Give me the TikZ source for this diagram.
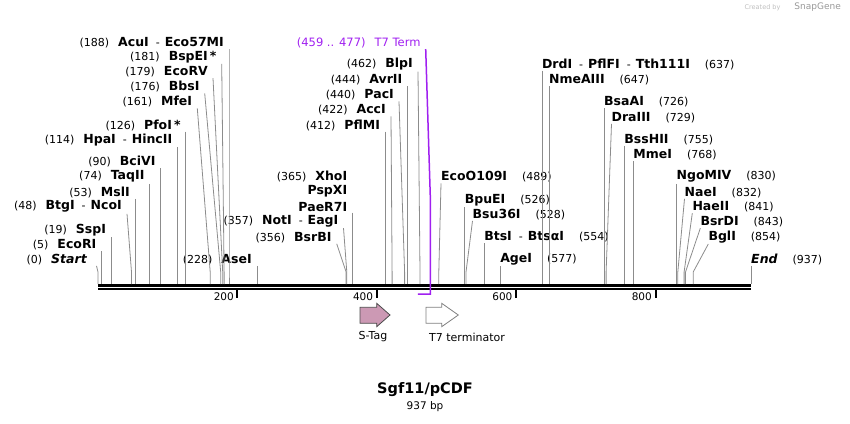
\documentclass[tikz,border=0pt]{standalone}
\usepackage{fontspec}
\setmainfont{DejaVu Sans}
\usepackage{tikz}
\definecolor{termpurple}{RGB}{160,32,240}
\definecolor{tagpink}{RGB}{204,153,180}
\newcommand{\enz}[1]{{\fontsize{12.5}{14}\selectfont\bfseries #1}}

\begin{document}
\begin{tikzpicture}[x=1pt, y=-1pt, lab/.style={anchor=east, inner xsep=5pt, inner ysep=1pt, font=\fontsize{11}{13}\selectfont}, rab/.style={anchor=west, inner xsep=0pt, inner ysep=1pt, font=\fontsize{11}{13}\selectfont}, cut/.style={draw=black!45, line width=0.8pt}, tick/.style={line width=2pt}, ticklab/.style={anchor=east, inner sep=0pt, font=\fontsize{10.5}{12}\selectfont}, feat/.style={inner sep=0pt, font=\fontsize{11}{13}\selectfont}]
            \useasboundingbox (0,0) rectangle (850,423);
            % sequence
            \draw[line width=3pt] (98,285.5) -- (751,285.5);
            \draw[line width=2pt] (98,289) -- (751,289);
            \draw[tick] (237.4,290) -- (237.4,297.5);
            \draw[tick] (376.8,290) -- (376.8,297.5);
            \draw[tick] (516.1,290) -- (516.1,297.5);
            \draw[tick] (655.5,290) -- (655.5,297.5);
            \node[ticklab] (n200) at (234,297) {200};
            \node[ticklab] (n400) at (373.3,297) {400};
            \node[ticklab] (n600) at (512.6,297) {600};
            \node[ticklab] (n800) at (652,297) {800};
            % sites
            \coordinate (knee) at (0,272);
            \coordinate (s0) at (98,284);
            \coordinate (s5) at (101.5,284);
            \coordinate (s19) at (111.2,284);
            \coordinate (s48) at (131.5,284);
            \coordinate (s53) at (134.9,284);
            \coordinate (s74) at (149.6,284);
            \coordinate (s90) at (160.7,284);
            \coordinate (s114) at (177.4,284);
            \coordinate (s126) at (185.8,284);
            \coordinate (s161) at (210.2,284);
            \coordinate (s176) at (220.7,284);
            \coordinate (s179) at (222.7,284);
            \coordinate (s181) at (224.1,284);
            \coordinate (s188) at (229,284);
            \coordinate (s228) at (256.9,284);
            \coordinate (s356) at (346.1,284);
            \coordinate (s357) at (346.8,284);
            \coordinate (s365) at (352.4,284);
            \coordinate (s412) at (385.1,284);
            \coordinate (s422) at (392.1,284);
            \coordinate (s440) at (404.6,284);
            \coordinate (s444) at (407.4,284);
            \coordinate (s462) at (420,284);
            \coordinate (s489) at (438.8,284);
            \coordinate (s526) at (464.6,284);
            \coordinate (s528) at (466,284);
            \coordinate (s554) at (484.1,284);
            \coordinate (s577) at (500.1,284);
            \coordinate (s637) at (541.9,284);
            \coordinate (s647) at (548.9,284);
            \coordinate (s726) at (604,284);
            \coordinate (s729) at (606.1,284);
            \coordinate (s755) at (624.2,284);
            \coordinate (s768) at (633.2,284);
            \coordinate (s830) at (676.4,284);
            \coordinate (s832) at (677.8,284);
            \coordinate (s841) at (684.1,284);
            \coordinate (s843) at (685.5,284);
            \coordinate (s854) at (693.2,284);
            \coordinate (s937) at (751,284);
            \coordinate (t7knee) at (430.4,200);
            \coordinate (t7end) at (430.4,294);
            \coordinate (t7start) at (417.9,294);
            % labels left of their site
            \node[lab, inner xsep=9.5pt] (startlab) at (96.5,259.3) {(0)\hspace{9pt}\enz{\itshape Start}};
            \node[lab] (ecori) at (101.5,245) {(5)\hspace{9pt}\enz{EcoRI}};
            \node[lab] (sspi) at (111.2,230) {(19)\hspace{9pt}\enz{SspI}};
            \node[lab] (ncoi) at (127,206.7) {(48)\hspace{9pt}\enz{BtgI}\hspace{7pt}-\hspace{5pt}\enz{NcoI}};
            \node[lab] (msli) at (134.9,192.3) {(53)\hspace{9pt}\enz{MslI}};
            \node[lab] (taqii) at (149.6,176.7) {(74)\hspace{9pt}\enz{TaqII}};
            \node[lab] (bcivi) at (160.7,161.7) {(90)\hspace{9pt}\enz{BciVI}};
            \node[lab] (hpai) at (177.4,140) {(114)\hspace{9pt}\enz{HpaI}\hspace{7pt}-\hspace{5pt}\enz{HincII}};
            \node[lab] (pfoi) at (185.8,125) {(126)\hspace{9pt}\enz{PfoI\,*}};
            \node[lab] (mfei) at (197.3,101.7) {(161)\hspace{9pt}\enz{MfeI}};
            \node[lab] (bbsi) at (204.7,86.7) {(176)\hspace{9pt}\enz{BbsI}};
            \node[lab] (ecorv) at (213,71.7) {(179)\hspace{9pt}\enz{EcoRV}};
            \node[lab] (bspei) at (221.7,56.7) {(181)\hspace{9pt}\enz{BspEI\,*}};
            \node[lab] (acui) at (229,42.7) {(188)\hspace{9pt}\enz{AcuI}\hspace{7pt}-\hspace{5pt}\enz{Eco57MI}};
            \node[lab] (asei) at (256.9,259.3) {(228)\hspace{9pt}\enz{AseI}};
            \node[lab] (bsrbi) at (336.7,237.3) {(356)\hspace{9pt}\enz{BsrBI}};
            \node[lab] (noti) at (343.5,221) {(357)\hspace{9pt}\enz{NotI}\hspace{7pt}-\hspace{5pt}\enz{EagI}};
            \node[lab] (paer7i) at (352.4,206.7) {\enz{PaeR7I}};
            \node[lab] (pspxi) at (352.4,191.7) {\enz{PspXI}};
            \node[lab] (xhoi) at (352.4,176.7) {(365)\hspace{9pt}\enz{XhoI}};
            \node[lab] (pflmi) at (385.1,125) {(412)\hspace{9pt}\enz{PflMI}};
            \node[lab] (acci) at (391,110) {(422)\hspace{9pt}\enz{AccI}};
            \node[lab] (paci) at (399,95) {(440)\hspace{9pt}\enz{PacI}};
            \node[lab] (avrii) at (407.4,80) {(444)\hspace{9pt}\enz{AvrII}};
            \node[lab] (blpi) at (418,64.3) {(462)\hspace{9pt}\enz{BlpI}};
            \node[lab, text=termpurple, font=\fontsize{11.5}{13}\selectfont] (t7term) at (425.7,42.7) {(459 .. 477)\hspace{9pt}T7 Term};
            % labels right of their site
            \node[rab] (ecoo109i) at (441,176.7) {\enz{EcoO109I}\hspace{15pt}(489)};
            \node[rab] (bpuei) at (464.6,200) {\enz{BpuEI}\hspace{15pt}(526)};
            \node[rab] (bsu36i) at (472.5,214.3) {\enz{Bsu36I}\hspace{15pt}(528)};
            \node[rab] (btsi) at (484.1,236.7) {\enz{BtsI}\hspace{7pt}-\hspace{5pt}\enz{BtsαI}\hspace{15pt}(554)};
            \node[rab] (agei) at (500.1,259.3) {\enz{AgeI}\hspace{15pt}(577)};
            \node[rab] (drdi) at (541.9,64) {\enz{DrdI}\hspace{7pt}-\hspace{5pt}\enz{PflFI}\hspace{7pt}-\hspace{5pt}\enz{Tth111I}\hspace{15pt}(637)};
            \node[rab] (nmeaiii) at (548.9,80) {\enz{NmeAIII}\hspace{15pt}(647)};
            \node[rab] (bsaai) at (604,101.7) {\enz{BsaAI}\hspace{15pt}(726)};
            \node[rab] (draiii) at (611.5,117.3) {\enz{DraIII}\hspace{15pt}(729)};
            \node[rab] (bsshii) at (624.2,139.3) {\enz{BssHII}\hspace{15pt}(755)};
            \node[rab] (mmei) at (633.2,155) {\enz{MmeI}\hspace{15pt}(768)};
            \node[rab] (ngomiv) at (676.4,176.7) {\enz{NgoMIV}\hspace{15pt}(830)};
            \node[rab] (naei) at (684.5,192.3) {\enz{NaeI}\hspace{15pt}(832)};
            \node[rab] (haeii) at (692.3,206.7) {\enz{HaeII}\hspace{15pt}(841)};
            \node[rab] (bsrdi) at (700.3,221.7) {\enz{BsrDI}\hspace{15pt}(843)};
            \node[rab] (bgli) at (708.3,236.7) {\enz{BglI}\hspace{15pt}(854)};
            \node[rab] (endlab) at (751,259.3) {\enz{\itshape End}\hspace{15pt}(937)};
            % cut lines
            \draw[cut] (startlab.south east) -- (s0 |- knee) -- (s0);
            \draw[cut] (ecori.south east) -- (s5 |- knee) -- (s5);
            \draw[cut] (sspi.south east) -- (s19 |- knee) -- (s19);
            \draw[cut] (ncoi.south east) -- (s48 |- knee) -- (s48);
            \draw[cut] (msli.south east) -- (s53 |- knee) -- (s53);
            \draw[cut] (taqii.south east) -- (s74 |- knee) -- (s74);
            \draw[cut] (bcivi.south east) -- (s90 |- knee) -- (s90);
            \draw[cut] (hpai.south east) -- (s114 |- knee) -- (s114);
            \draw[cut] (pfoi.south east) -- (s126 |- knee) -- (s126);
            \draw[cut] (mfei.south east) -- (s161 |- knee) -- (s161);
            \draw[cut] (bbsi.south east) -- (s176 |- knee) -- (s176);
            \draw[cut] (ecorv.south east) -- (s179 |- knee) -- (s179);
            \draw[cut] (bspei.south east) -- (s181 |- knee) -- (s181);
            \draw[cut] (acui.south east) -- (s188 |- knee) -- (s188);
            \draw[cut] (asei.south east) -- (s228 |- knee) -- (s228);
            \draw[cut] (bsrbi.south east) -- (s356 |- knee) -- (s356);
            \draw[cut] (noti.south east) -- (s357 |- knee) -- (s357);
            \draw[cut] (paer7i.south east) -- (s365 |- knee) -- (s365);
            \draw[cut] (pflmi.south east) -- (s412 |- knee) -- (s412);
            \draw[cut] (acci.south east) -- (s422 |- knee) -- (s422);
            \draw[cut] (paci.south east) -- (s440 |- knee) -- (s440);
            \draw[cut] (avrii.south east) -- (s444 |- knee) -- (s444);
            \draw[cut] (blpi.south east) -- (s462 |- knee) -- (s462);
            \draw[cut] (ecoo109i.south west) -- (s489 |- knee) -- (s489);
            \draw[cut] (bpuei.south west) -- (s526 |- knee) -- (s526);
            \draw[cut] (bsu36i.south west) -- (s528 |- knee) -- (s528);
            \draw[cut] (btsi.south west) -- (s554 |- knee) -- (s554);
            \draw[cut] (agei.south west) -- (s577 |- knee) -- (s577);
            \draw[cut] (drdi.south west) -- (s637 |- knee) -- (s637);
            \draw[cut] (nmeaiii.south west) -- (s647 |- knee) -- (s647);
            \draw[cut] (bsaai.south west) -- (s726 |- knee) -- (s726);
            \draw[cut] (draiii.south west) -- (s729 |- knee) -- (s729);
            \draw[cut] (bsshii.south west) -- (s755 |- knee) -- (s755);
            \draw[cut] (mmei.south west) -- (s768 |- knee) -- (s768);
            \draw[cut] (ngomiv.south west) -- (s830 |- knee) -- (s830);
            \draw[cut] (naei.south west) -- (s832 |- knee) -- (s832);
            \draw[cut] (haeii.south west) -- (s841 |- knee) -- (s841);
            \draw[cut] (bsrdi.south west) -- (s843 |- knee) -- (s843);
            \draw[cut] (bgli.south west) -- (s854 |- knee) -- (s854);
            \draw[cut] (endlab.south west) -- (s937 |- knee) -- (s937);
            % T7 terminator span
            \draw[termpurple, line width=1.5pt] (t7term.south east) -- (t7knee) -- (t7end) -- (t7start);
            % features
            \draw[fill=tagpink, draw=black!70, line width=0.8pt] (360,307.3) -- (376.7,307.3) -- (376.7,303.3) -- (390,315) -- (376.7,326.7) -- (376.7,323.3) -- (360,323.3) -- cycle;
            \draw[fill=white, draw=black!50, line width=0.8pt] (426,307.3) -- (441.7,307.3) -- (441.7,303.3) -- (458.3,315) -- (441.7,326.7) -- (441.7,323.3) -- (426,323.3) -- cycle;
            \node[feat] (stag) at (373,337) {S-Tag};
            \node[feat] (t7lab) at (467,337) {T7 terminator};
            % title
            \node[inner sep=0pt, font=\fontsize{14.5}{16}\selectfont\bfseries] (title) at (425,390) {Sgf11/pCDF};
            \node[inner sep=0pt, font=\fontsize{10.5}{12}\selectfont] (size) at (425,407) {937 bp};
            \node[anchor=east, inner sep=0pt, text=black!25, font=\fontsize{6.5}{8}\selectfont] (credit) at (841,7.5) {Created by\hspace{14pt}{\fontsize{9}{10}\selectfont\color{black!40}SnapGene}};
        \end{tikzpicture}
\end{document}
